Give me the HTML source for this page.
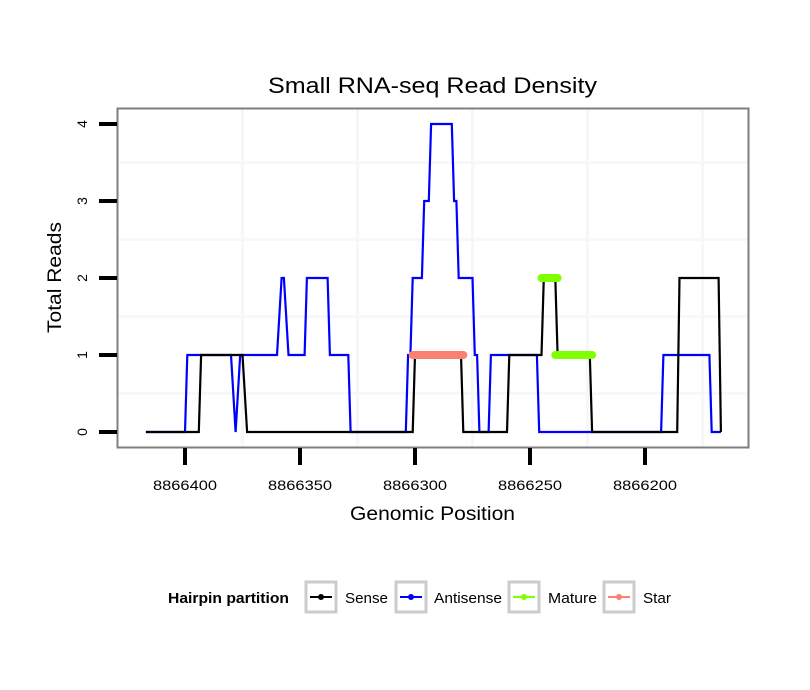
<!DOCTYPE html>
<html><head><meta charset="utf-8"><style>
body{margin:0;background:#fff}
svg{display:block;font-family:"Liberation Sans",sans-serif}
</style></head><body>
<svg id="chart" width="810" height="690">
<rect width="810" height="690" fill="#fff"/>
<text x="268" y="93" font-size="22" textLength="329" lengthAdjust="spacingAndGlyphs">Small RNA-seq Read Density</text>
<g id="grid"></g>
<g id="series"></g>
<rect x="117.5" y="108.5" width="631" height="339" fill="none" stroke="#7f7f7f" stroke-width="2"/>
<g id="axes"></g>
<text x="350" y="520" font-size="19" textLength="165" lengthAdjust="spacingAndGlyphs">Genomic Position</text>
<text transform="translate(61,333) rotate(-90)" font-size="19" textLength="111" lengthAdjust="spacingAndGlyphs">Total Reads</text>
<g>
<text x="168" y="603" font-size="15" font-weight="bold" textLength="121" lengthAdjust="spacingAndGlyphs">Hairpin partition</text>
<g><rect x="306" y="582" width="30" height="30" fill="#fff" stroke="#ccc" stroke-width="3"/><line x1="310" y1="597" x2="332" y2="597" stroke="#000" stroke-width="2"/><circle cx="321" cy="597" r="3" fill="#000"/><text x="345" y="603" font-size="15" textLength="43" lengthAdjust="spacingAndGlyphs">Sense</text></g>
<g><rect x="396" y="582" width="30" height="30" fill="#fff" stroke="#ccc" stroke-width="3"/><line x1="400" y1="597" x2="422" y2="597" stroke="#00f" stroke-width="2"/><circle cx="411" cy="597" r="3" fill="#00f"/><text x="434" y="603" font-size="15" textLength="68" lengthAdjust="spacingAndGlyphs">Antisense</text></g>
<g><rect x="509" y="582" width="30" height="30" fill="#fff" stroke="#ccc" stroke-width="3"/><line x1="513" y1="597" x2="535" y2="597" stroke="#7fff00" stroke-width="2"/><circle cx="524" cy="597" r="3" fill="#7fff00"/><text x="548" y="603" font-size="15" textLength="49" lengthAdjust="spacingAndGlyphs">Mature</text></g>
<g><rect x="604" y="582" width="30" height="30" fill="#fff" stroke="#ccc" stroke-width="3"/><line x1="608" y1="597" x2="630" y2="597" stroke="#fa8072" stroke-width="2"/><circle cx="619" cy="597" r="3" fill="#fa8072"/><text x="643" y="603" font-size="15" textLength="28" lengthAdjust="spacingAndGlyphs">Star</text></g>
</g>
</svg>
<script>
const xTicks = [8866400, 8866350, 8866300, 8866250, 8866200];
const yTicks = [0, 1, 2, 3, 4];
const antisensePos = [8866417,8866400,8866399,8866380,8866378,8866376,8866360,8866358,8866357,8866355,8866348,8866347,8866338,8866337,8866329,8866328,8866304,8866303,8866302,8866301,8866297,8866296,8866294,8866293,8866284,8866283,8866282,8866281,8866275,8866274,8866273,8866272,8866268,8866267,8866247,8866246,8866193,8866192,8866172,8866171,8866167];
const antisenseVal = [0,0,1,1,0,1,1,2,2,1,1,2,2,1,1,0,0,1,1,2,2,3,3,4,4,3,3,2,2,1,1,0,0,1,1,0,0,1,1,0,0];
const sensePos = [8866417,8866394,8866393,8866375,8866373,8866301,8866300,8866280,8866279,8866260,8866259,8866245,8866244,8866239,8866238,8866224,8866223,8866186,8866185,8866168,8866167];
const senseVal = [0,0,1,1,0,0,1,1,0,0,1,1,2,2,1,1,0,0,2,2,0];
const starPos = [8866301, 8866279];
const starVal = [1, 1];
const matureAPos = [8866245, 8866238];
const matureAVal = [2, 2];
const matureBPos = [8866239, 8866223];
const matureBVal = [1, 1];

const NS='http://www.w3.org/2000/svg';
const X = v => 185 + (8866400 - v) * 2.3;
const Y = v => 432 - v * 77;
function mk(tag, attrs, parent){const e=document.createElementNS(NS,tag);for(const k in attrs)e.setAttribute(k,attrs[k]);parent.appendChild(e);return e;}
const grid=document.getElementById('grid'), ser=document.getElementById('series'), axes=document.getElementById('axes');
for (let i=0;i<yTicks.length;i++){
  if(i<yTicks.length-1){const m=mk('line',{x1:118,x2:748,y1:Y((yTicks[i]+yTicks[i+1])/2),y2:Y((yTicks[i]+yTicks[i+1])/2),stroke:'#f8f8f8','stroke-width':3},grid);
  
  }
  const t=mk('line',{x1:99,x2:117,y1:Y(yTicks[i]),y2:Y(yTicks[i]),stroke:'#000','stroke-width':4},axes);
  
  
  const tx=mk('text',{transform:`translate(87,${Y(yTicks[i])}) rotate(-90)`,'font-size':14,'text-anchor':'middle'},axes);
  tx.textContent=yTicks[i];
  
  
}
for (const v of xTicks){
  const g=mk('line',{x1:X(v-25),x2:X(v-25),y1:109,y2:447,stroke:'#f7f7f7','stroke-width':3},grid);
  
  
  const t=mk('line',{x1:X(v),x2:X(v),y1:448,y2:465,stroke:'#000','stroke-width':4},axes);
  
  
  const tx=mk('text',{x:X(v)-32,y:490,'font-size':14,textLength:64,lengthAdjust:'spacingAndGlyphs'},axes);
  tx.textContent=v;
  
  
}
function line(pos,val,color,w,name){
  const p=mk('polyline',{points:pos.map((v,i)=>X(v)+','+Y(val[i])).join(' '),fill:'none',stroke:color,'stroke-width':w,'stroke-linecap':w>3?'round':'butt','stroke-linejoin':'miter'},ser);
  
  
}
line(antisensePos,antisenseVal,'#0000ff',2.2,'antisense-line');
line(sensePos,senseVal,'#000',2.2,'sense-line');
line(starPos,starVal,'#fa8072',8,'star-segment');
line(matureAPos,matureAVal,'#7fff00',8,'mature-segment-upper');
line(matureBPos,matureBVal,'#7fff00',8,'mature-segment-lower');
</script>
</body></html>
